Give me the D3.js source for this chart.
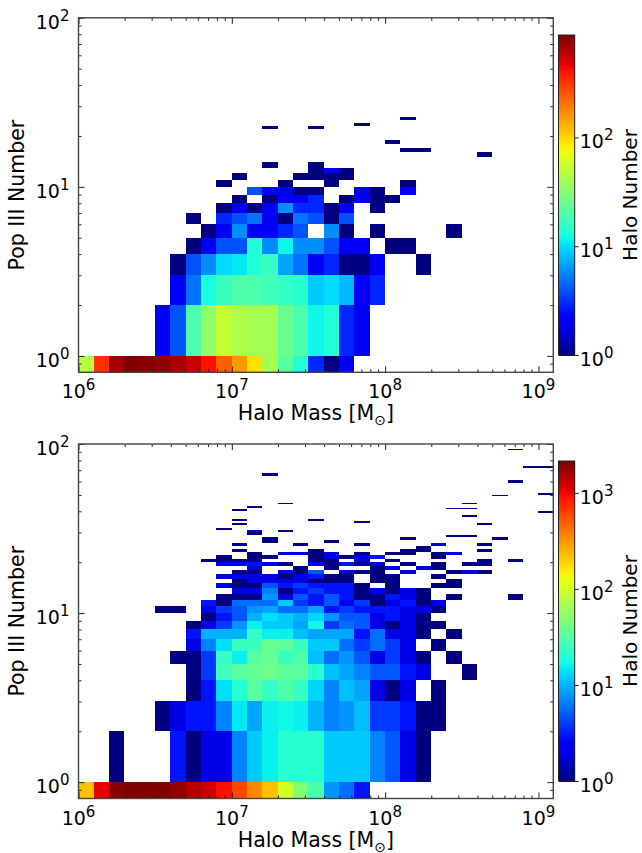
<!DOCTYPE html>
<html>
<head>
<meta charset="utf-8">
<style>
  html, body { margin: 0; padding: 0; background: #fff; }
  svg { display: block; }
  text { font-family: "DejaVu Sans", sans-serif; fill: #000; }
</style>
<script src="https://cdn.jsdelivr.net/npm/d3@7"></script>
</head>
<body>
<div id="chart"></div>
<script>
// ---- data: a row is one Pop III bin, counts start at firstCol ----
const massTicks = [1e6, 1e7, 1e8, 1e9];
const popTicks = [1, 10, 100];

const topRowLow = [0.8, 1, 2, 3, 4, 5, 6, 7, 8, 9, 10, 11, 12, 13, 15, 16, 18, 22, 23, 25];
const topFirstCol = [0, 5, 6, 6, 7, 8, 7, 9, 10, 11, 9, 10, 15, 12, 26, 21, 20, 12, 18, 21];
const topCounts = [
  [48, 340, 710, 875, 830, 790, 690, 555, 423, 240, 160, 95, 41, 22, 14, 3, 1, 2],
  [2, 4, 20, 35, 54, 45, 41, 41, 25, 20, 12, 14, 3, 2],
  [2, 5, 13, 17, 20, 20, 18, 16, 15, 9, 10, 8, 2, 3],
  [1, 4, 6, 10, 11, 14, 17, 7, 5, 2, 3, 1, 1, 2, 0, 0, 1],
  [1, 2, 4, 4, 14, 6, 12, 6, 6, 4, 2, 2, 0, 1, 1],
  [1, 2, 6, 2, 2, 3, 4, 0, 6, 1, 0, 1, 0, 0, 0, 0, 1],
  [1, 0, 3, 4, 5, 2, 1, 5, 4, 1, 4],
  [1, 2, 1, 2, 6, 3, 3, 1, 2, 0, 1],
  [1, 0, 1, 2, 2, 3, 0, 1, 2, 1, 1],
  [4, 2, 2, 1, 1, 0, 0, 2, 1, 0, 2],
  [1, 0, 0, 0, 1, 0, 0, 1, 0, 0, 0, 0, 1],
  [1, 0, 0, 0, 1, 1, 1, 1],
  [1, 2, 1],
  [1, 0, 0, 1],
  [1],
  [1, 1],
  [1],
  [1, 0, 0, 1],
  [1],
  [1]
];
const topColorMax = 875;
const topColorTicks = [1, 10, 100];

const bottomRowLow = [0.8, 1, 2, 3, 4, 5, 6, 7, 8, 9, 10, 11, 12, 13, 14, 15, 16, 17, 18, 19, 20, 21, 22, 23, 24, 25, 26, 27, 28, 29, 30, 31, 33, 34, 35, 37, 39, 40, 41, 42, 44, 49, 50, 59, 60, 65, 66, 72, 73, 92];
const bottomFirstCol = [0, 2, 5, 7, 7, 6, 7, 7, 7, 8, 5, 8, 9, 10, 9, 10, 9, 10, 11, 9, 8, 9, 11, 10, 22, 10, 12, 12, 24, 11, 11, 9, 10, 18, 10, 25, 30, 10, 24, 11, 13, 27, 30, 28, 28, 12, 12, 29, 29, 28];
const bottomCounts = [
  [226, 1120, 2000, 2150, 2100, 2150, 1900, 1500, 1300, 950, 610, 360, 226, 100, 50, 29, 8, 6, 3],
  [1, 0, 0, 0, 3, 1, 2, 2, 7, 12, 16, 21, 21, 21, 12, 12, 12, 7, 5, 2, 1],
  [1, 2, 3, 3, 7, 15, 9, 16, 17, 16, 10, 7, 8, 11, 4, 4, 3, 1, 1],
  [1, 3, 14, 21, 33, 24, 30, 24, 13, 7, 11, 9, 2, 1, 2, 0, 1],
  [1, 4, 26, 33, 38, 40, 35, 33, 21, 11, 9, 7, 5, 5, 3, 2, 0, 0, 1],
  [1, 1, 4, 24, 16, 33, 38, 25, 30, 11, 6, 8, 5, 2, 4, 2, 1, 0, 1],
  [2, 7, 14, 25, 25, 38, 35, 25, 12, 12, 6, 4, 6, 4, 2, 0, 1],
  [3, 10, 10, 10, 24, 16, 16, 11, 9, 9, 9, 3, 6, 2, 2, 1, 0, 1],
  [1, 2, 4, 8, 16, 12, 12, 9, 17, 4, 6, 5, 2, 1, 2, 1, 1],
  [1, 3, 5, 10, 14, 12, 10, 13, 8, 5, 5, 2, 3, 2, 1],
  [1, 1, 0, 2, 4, 5, 8, 9, 6, 6, 9, 3, 4, 3, 3, 3, 2, 2, 1],
  [3, 1, 6, 6, 6, 12, 4, 3, 5, 2, 4, 1, 2, 3, 1, 2],
  [1, 1, 1, 8, 2, 5, 3, 5, 3, 1, 1, 3, 2, 1, 0, 1, 0, 0, 0, 1],
  [2, 2, 7, 1, 3, 4, 3, 3, 1, 2, 1, 2, 1],
  [2, 1, 1, 5, 3, 4, 3, 3, 3, 1, 0, 1, 0, 0, 1, 1],
  [1, 2, 2, 2, 2, 1, 1, 1, 0, 1, 1, 0, 0, 0, 1],
  [2, 2, 2, 2, 1, 2, 3, 1, 1, 0, 1, 1, 0, 0, 1],
  [1, 1, 0, 2, 1, 5, 0, 2, 1, 1, 0, 2, 0, 0, 1, 2, 1],
  [2, 0, 0, 1, 0, 1, 0, 0, 1, 2, 0, 2, 1],
  [2, 2, 3, 2, 1, 0, 2, 1, 3, 1, 2, 0, 1, 0, 1, 0, 1, 1],
  [1, 1, 1, 1, 0, 0, 0, 1, 1, 0, 2, 0, 1, 0, 0, 0, 0, 0, 1, 0, 1],
  [1, 0, 1, 1, 0, 0, 1, 2, 1, 2, 3, 0, 0, 0, 1],
  [1, 0, 2, 2, 1, 2, 0, 1, 0, 1, 1, 0, 1, 2],
  [1, 0, 0, 0, 0, 1, 0, 0, 0, 0, 0, 1, 1, 0, 0, 0, 1],
  [1],
  [1, 0, 0, 0, 1, 0, 0, 0, 1, 0, 0, 0, 0, 2, 0, 0, 1],
  [1, 0, 0, 0, 1],
  [1, 0, 0, 0, 0, 0, 0, 0, 0, 1, 0, 0, 0, 0, 0, 1],
  [1, 1],
  [1],
  [2, 0, 1],
  [1],
  [1, 0, 0, 0, 0, 0, 0, 0, 0, 0, 0, 0, 0, 0, 0, 0, 1],
  [1],
  [1, 0, 0, 0, 0, 1],
  [1],
  [1],
  [1],
  [1, 1],
  [1],
  [1, 0, 0, 0, 0, 0, 0, 0, 0, 0, 0, 0, 1],
  [1],
  [1],
  [1],
  [1],
  [1],
  [1],
  [1, 1],
  [1, 1],
  [1]
];
const bottomColorMax = 2150;
const bottomColorTicks = [1, 10, 100, 1000];

// ---- page layout ----
const width = 642, height = 853;
const plotLeft = 78.5, plotRight = 553.3;
const barLeft = 558.5, barRight = 574.7;
const massPerColumn = 0.1; // 10 bins per decade, starting at 10^6

const svg = d3.select('#chart').append('svg')
  .attr('width', width).attr('height', height);

// matplotlib jet, piecewise
const jetR = d3.scaleLinear().domain([0, 0.35, 0.66, 0.89, 1]).range([0, 0, 1, 1, 0.5]);
const jetG = d3.scaleLinear().domain([0, 0.125, 0.375, 0.64, 0.91, 1]).range([0, 0, 1, 1, 0, 0]);
const jetB = d3.scaleLinear().domain([0, 0.11, 0.34, 0.65, 1]).range([0.5, 1, 1, 0, 0]);
function jet(t) {
  return d3.rgb(jetR(t) * 255, jetG(t) * 255, jetB(t) * 255).formatHex();
}

function minorTicks(domain) {
  const out = [];
  for (let e = -1; e < 10; e++) {
    for (let m = 2; m < 10; m++) {
      const v = m * Math.pow(10, e);
      if (v > domain[0] && v < domain[1]) out.push(v);
    }
  }
  return out;
}

function powerLabel(sel, value) {
  sel.append('tspan').text('10');
  sel.append('tspan')
    .attr('dy', -8).attr('font-size', 15)
    .text(Math.round(Math.log10(value)));
}

function drawPanel(cfg) {
  const g = svg.append('g');
  const massExtent = [1e6, 1.25e9], popExtent = [0.8, 100];
  const x = d3.scaleLog().domain(massExtent).range([plotLeft, plotRight]);
  const y = d3.scaleLog().domain(popExtent).range([cfg.bottom, cfg.top]);
  const colorT = d3.scaleLog().domain([1, cfg.colorMax]).range([0, 1]).clamp(true);

  // ---- 1. cells ----
  const cells = [];
  cfg.rowLow.forEach(function (low, r) {
    cfg.counts[r].forEach(function (count, i) {
      if (!count) return;
      cells.push({ col: cfg.firstCol[r] + i, low: low, high: low < 1 ? 1 : low + 1, count: count });
    });
  });
  g.selectAll('rect.cell').data(cells).enter().append('rect')
    .attr('class', 'cell')
    .attr('shape-rendering', 'crispEdges')
    .attr('x', function (d) { return x(Math.pow(10, 6 + d.col * massPerColumn)); })
    .attr('width', function (d) {
      const right = Math.min(massExtent[1], Math.pow(10, 6 + (d.col + 1) * massPerColumn));
      return x(right) - x(Math.pow(10, 6 + d.col * massPerColumn));
    })
    .attr('y', function (d) { return y(d.high); })
    .attr('height', function (d) { return y(d.low) - y(d.high); })
    .attr('fill', function (d) { return jet(colorT(d.count)); });

  // ---- 2. axes: inward ticks on all four sides ----
  const tickOpts = function (axis, values, size) {
    return axis.tickValues(values).tickSize(size).tickFormat('');
  };
  const axisLayers = [
    [d3.axisBottom(x), massTicks, 'translate(0,' + cfg.bottom + ')', -6],
    [d3.axisBottom(x), minorTicks(massExtent), 'translate(0,' + cfg.bottom + ')', -3],
    [d3.axisTop(x), massTicks, 'translate(0,' + cfg.top + ')', -6],
    [d3.axisTop(x), minorTicks(massExtent), 'translate(0,' + cfg.top + ')', -3],
    [d3.axisLeft(y), popTicks, 'translate(' + plotLeft + ',0)', -6],
    [d3.axisLeft(y), minorTicks(popExtent), 'translate(' + plotLeft + ',0)', -3],
    [d3.axisRight(y), popTicks, 'translate(' + plotRight + ',0)', -6],
    [d3.axisRight(y), minorTicks(popExtent), 'translate(' + plotRight + ',0)', -3]
  ];
  axisLayers.forEach(function (a) {
    const ag = g.append('g').attr('transform', a[2]).call(tickOpts(a[0], a[1], a[3]));
    ag.select('.domain').remove();
    ag.selectAll('line').attr('stroke', '#222').attr('stroke-width', 1);
  });
  g.append('rect')
    .attr('x', plotLeft).attr('y', cfg.top)
    .attr('width', plotRight - plotLeft).attr('height', cfg.bottom - cfg.top)
    .attr('fill', 'none').attr('stroke', '#444').attr('stroke-width', 1.4);

  // ---- 3. tick labels ----
  massTicks.forEach(function (v) {
    g.append('text')
      .attr('x', x(v)).attr('y', cfg.bottom + 26)
      .attr('text-anchor', 'middle').attr('font-size', 19)
      .call(powerLabel, v);
  });
  popTicks.forEach(function (v) {
    g.append('text')
      .attr('x', plotLeft - 9).attr('y', y(v) + 11)
      .attr('text-anchor', 'end').attr('font-size', 19)
      .call(powerLabel, v);
  });

  // ---- 4. axis titles ----
  const massLabel = g.append('text')
    .attr('x', (plotLeft + plotRight) / 2).attr('y', cfg.bottom + 48)
    .attr('text-anchor', 'middle').attr('font-size', 20.5);
  massLabel.append('tspan').text('Halo Mass [M');
  massLabel.append('tspan').attr('dy', 5).attr('font-size', 14).text('⊙');
  massLabel.append('tspan').attr('dy', -5).text(']');

  g.append('text')
    .attr('transform', 'translate(24,' + (cfg.top + cfg.bottom) / 2 + ') rotate(-90)')
    .attr('text-anchor', 'middle').attr('font-size', 20.5)
    .text('Pop III Number');

  // ---- 5. colorbar ----
  const barY = d3.scaleLog().domain([1, cfg.colorMax]).range([cfg.barBottom, cfg.barTop]);
  const steps = d3.range(256);
  const stepH = (cfg.barBottom - cfg.barTop) / steps.length;
  g.selectAll('rect.step').data(steps).enter().append('rect')
    .attr('class', 'step')
    .attr('shape-rendering', 'crispEdges')
    .attr('x', barLeft).attr('width', barRight - barLeft)
    .attr('y', function (d) { return cfg.barBottom - (d + 1) * stepH; })
    .attr('height', stepH + 1)
    .attr('fill', function (d) { return jet((d + 0.5) / steps.length); });
  g.append('rect')
    .attr('x', barLeft).attr('y', cfg.barTop)
    .attr('width', barRight - barLeft).attr('height', cfg.barBottom - cfg.barTop)
    .attr('fill', 'none').attr('stroke', '#222').attr('stroke-width', 1);

  const barAxis = d3.axisLeft(barY).tickValues(cfg.colorTicks).tickSize(-4).tickFormat('');
  const bg = g.append('g').attr('transform', 'translate(' + barRight + ',0)').call(barAxis);
  bg.select('.domain').remove();
  bg.selectAll('line').attr('stroke', '#222');

  cfg.colorTicks.forEach(function (v) {
    g.append('text')
      .attr('x', barRight + 5).attr('y', barY(v) + 11)
      .attr('font-size', 19)
      .call(powerLabel, v);
  });
  g.append('text')
    .attr('transform', 'translate(637,' + (cfg.barTop + cfg.barBottom) / 2 + ') rotate(-90)')
    .attr('text-anchor', 'middle').attr('font-size', 20)
    .text('Halo Number');
}

drawPanel({
  top: 17.8, bottom: 372.3,
  barTop: 35, barBottom: 355,
  rowLow: topRowLow, firstCol: topFirstCol, counts: topCounts,
  colorMax: topColorMax, colorTicks: topColorTicks
});
drawPanel({
  top: 444, bottom: 798.5,
  barTop: 461, barBottom: 781,
  rowLow: bottomRowLow, firstCol: bottomFirstCol, counts: bottomCounts,
  colorMax: bottomColorMax, colorTicks: bottomColorTicks
});
</script>
</body>
</html>
